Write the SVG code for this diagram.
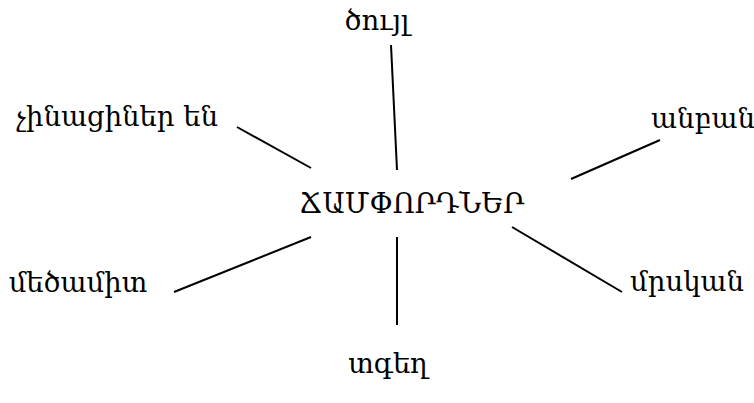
<svg xmlns="http://www.w3.org/2000/svg" width="754" height="403" viewBox="0 0 754 403">
<style>
text{font-family:"DejaVu Serif","Noto Serif","Liberation Serif",serif;font-size:27.5px;fill:#000}
.c line{stroke:#000;stroke-width:2}
</style>
<rect width="754" height="403" fill="#fff"/>
<g class="c" id="connectors">
<line x1="391" y1="45" x2="397" y2="170"/>
<line x1="237" y1="127" x2="311" y2="168"/>
<line x1="571" y1="179" x2="660" y2="140"/>
<line x1="174" y1="292" x2="311" y2="237"/>
<line x1="397" y1="237" x2="397" y2="325"/>
<line x1="512" y1="227" x2="622" y2="292"/>
</g>
<g id="center"><text x="412" y="213" text-anchor="middle">ՃԱՄՓՈՐԴՆԵՐ</text></g>
<g id="n1"><text x="377" y="30" text-anchor="middle">ծույլ</text></g>
<g id="n2"><text x="117" y="126" text-anchor="middle">չինացիներ են</text></g>
<g id="n3"><text x="703" y="128" text-anchor="middle">անբան</text></g>
<g id="n4"><text x="78" y="292" text-anchor="middle">մեծամիտ</text></g>
<g id="n5"><text x="687" y="291" text-anchor="middle">մրսկան</text></g>
<g id="n6"><text x="388" y="373" text-anchor="middle">տգեղ</text></g>
</svg>
